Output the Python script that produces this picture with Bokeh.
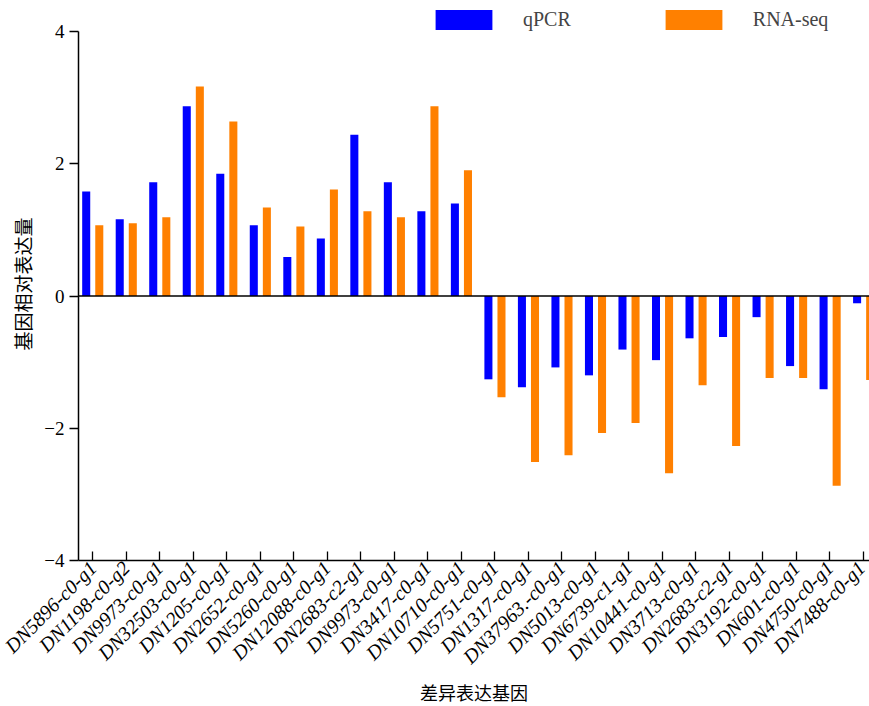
from bokeh.plotting import figure
from bokeh.models import ColumnDataSource, FixedTicker, Span, Legend, LegendItem
from bokeh.embed import file_html
from bokeh.resources import INLINE
import math

genes = ["DN5896-c0-g1", "DN1198-c0-g2", "DN9973-c0-g1", "DN32503-c0-g1",
         "DN1205-c0-g1", "DN2652-c0-g1", "DN5260-c0-g1", "DN12088-c0-g1",
         "DN2683-c2-g1", "DN9973-c0-g1", "DN3417-c0-g1", "DN10710-c0-g1",
         "DN5751-c0-g1", "DN1317-c0-g1", "DN37963.-c0-g1", "DN5013-c0-g1",
         "DN6739-c1-g1", "DN10441-c0-g1", "DN3713-c0-g1", "DN2683-c2-g1",
         "DN3192-c0-g1", "DN601-c0-g1", "DN4750-c0-g1", "DN7488-c0-g1"]
qpcr = [1.58, 1.16, 1.72, 2.87, 1.85, 1.07, 0.59, 0.87, 2.44, 1.72, 1.28, 1.40,
        -1.26, -1.38, -1.08, -1.20, -0.81, -0.97, -0.64, -0.62, -0.32, -1.06, -1.41, -0.11]
rnaseq = [1.07, 1.10, 1.19, 3.17, 2.64, 1.34, 1.05, 1.61, 1.28, 1.19, 2.87, 1.90,
          -1.53, -2.51, -2.41, -2.07, -1.92, -2.68, -1.35, -2.27, -1.24, -1.24, -2.87, -1.27]
y_ticks = [-4, -2, 0, 2, 4]

pos = list(range(1, len(genes) + 1))
src = ColumnDataSource(dict(
    xq=[x - 0.19 for x in pos], xr=[x + 0.20 for x in pos],
    q=qpcr, r=rnaseq,
))

serif = "Liberation Serif"
cjk = "Noto Sans CJK SC"

# the plotting area reaches a little above y=4 to leave room for the legend
FRAME_H = 553
p = figure(frame_width=791, frame_height=FRAME_H,
           output_backend="svg", toolbar_location=None,
           x_range=(0.58, 24.18), y_range=(-4, 4.363),
           min_border_left=78, min_border_right=0, min_border_top=7, min_border_bottom=0)
p.outline_line_color = None
p.grid.visible = False
p.background_fill_color = "white"

rq = p.vbar(x="xq", top="q", bottom=0, width=0.24, source=src,
            fill_color="#0000ff", line_color=None)
rr = p.vbar(x="xr", top="r", bottom=0, width=0.24, source=src,
            fill_color="#ff8000", line_color=None)

p.add_layout(Span(location=0, dimension="width", line_color="black", line_width=1.3))

# x axis: gene names, slanted
xa = p.xaxis[0]
xa.ticker = FixedTicker(ticks=pos)
xa.major_label_overrides = {i: g for i, g in zip(pos, genes)}
xa.major_label_orientation = math.pi / 4
xa.major_label_text_font = serif
xa.major_label_text_font_style = "italic"
xa.major_label_text_font_size = "20px"
xa.major_label_text_color = "black"
xa.major_label_standoff = 4
xa.major_tick_in = 9
xa.major_tick_out = 0
xa.minor_tick_line_color = None
xa.axis_line_width = 1.5
xa.major_tick_line_width = 1.3
xa.axis_label = "差异表达基因"
xa.axis_label_text_font = cjk
xa.axis_label_text_font_style = "normal"
xa.axis_label_text_font_size = "18px"
xa.axis_label_text_color = "black"
xa.axis_label_standoff = 0

ya = p.yaxis[0]
ya.bounds = (-4, 4)
ya.ticker = FixedTicker(ticks=y_ticks)
ya.major_label_overrides = {t: (str(t) if t >= 0 else "\u2212" + str(-t)) for t in y_ticks}
ya.major_label_text_font = serif
ya.major_label_text_font_size = "19px"
ya.major_label_text_color = "black"
ya.major_tick_in = 0
ya.major_tick_out = 9
ya.minor_tick_line_color = None
ya.axis_line_width = 1.5
ya.major_tick_line_width = 1.3
ya.major_label_standoff = 5
ya.axis_label = "基因相对表达量"
ya.axis_label_text_font = cjk
ya.axis_label_text_font_style = "normal"
ya.axis_label_text_font_size = "19px"
ya.axis_label_text_color = "black"
ya.axis_label_standoff = 5

legend = Legend(items=[LegendItem(label="qPCR", renderers=[rq]),
                       LegendItem(label="RNA-seq", renderers=[rr])],
                orientation="horizontal", location=(350, FRAME_H - 25),
                glyph_width=71, glyph_height=25, spacing=87,
                label_standoff=24, label_text_font=serif, label_text_font_size="20px",
                label_text_baseline="middle", label_height=25,
                border_line_color=None, background_fill_alpha=0, padding=0, margin=0)
p.add_layout(legend, "center")

open("out.html", "w").write(file_html(p, INLINE))
